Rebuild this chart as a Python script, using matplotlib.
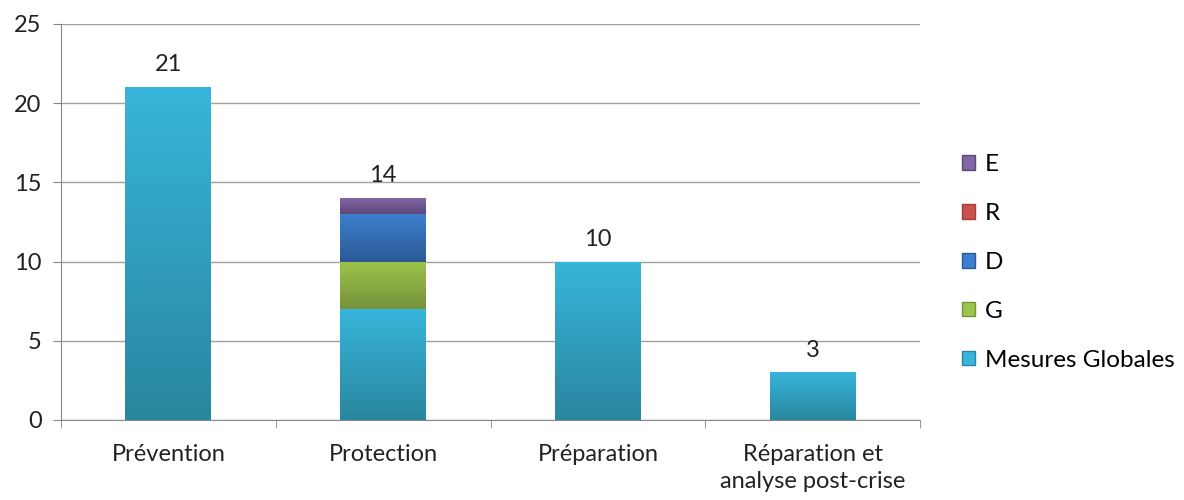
import numpy as np
import matplotlib.pyplot as plt
from matplotlib.colors import LinearSegmentedColormap
from matplotlib.patches import Patch

plt.rcParams['font.family'] = ['Lato', 'DejaVu Sans']

# --- data ---
categories = ['Prévention', 'Protection', 'Préparation', 'Réparation et\nanalyse post-crise']
globales = [21, 7, 10, 3]
g_vals = [0, 3, 0, 0]
d_vals = [0, 3, 0, 0]
r_vals = [0, 0, 0, 0]
e_vals = [0, 1, 0, 0]
totals = [21, 14, 10, 3]

series = [
    ('Mesures Globales', globales, '#37b5da', '#2a869f'),
    ('G', g_vals, '#9dc44c', '#76923a'),
    ('D', d_vals, '#3b7fce', '#2c5a94'),
    ('R', r_vals, '#c9504d', '#a53c3a'),
    ('E', e_vals, '#8266a6', '#5f4779'),
]

fig = plt.figure(figsize=(11.84, 5), dpi=100)
ax = fig.add_axes([61 / 1184, 80 / 500, 859 / 1184, 396 / 500])

x = np.arange(len(categories))
width = 0.4
bottom = np.zeros(len(categories))
grad = np.linspace(0, 1, 64).reshape(-1, 1)

handles = []
for name, vals, top_c, bot_c in series:
    cmap = LinearSegmentedColormap.from_list(name, [bot_c, top_c])
    bars = ax.bar(x, vals, width, bottom=bottom, color=top_c, edgecolor='none', zorder=2)
    for b in bars:
        if b.get_height() <= 0:
            continue
        x0, y0 = b.get_x(), b.get_y()
        im = ax.imshow(grad, cmap=cmap, aspect='auto', origin='lower',
                       extent=[x0, x0 + b.get_width(), y0, y0 + b.get_height()], zorder=3)
        im.set_clip_path(b)
    bottom += np.array(vals)
    handles.append(Patch(facecolor=top_c, edgecolor=bot_c, label=name))

for xi, t in zip(x, totals):
    ax.text(xi, t + 0.75, str(t), ha='center', va='bottom', fontsize=17, color='#222222')

ax.set_xlim(-0.5, len(categories) - 0.5)
ax.set_ylim(0, 25)
ax.set_yticks(range(0, 26, 5))
ax.yaxis.grid(True, color='#a0a0a0', linewidth=1)
ax.set_axisbelow(True)

ax.set_xticks(x)
ax.set_xticklabels(categories, fontsize=17, color='#222222', linespacing=1.35)
ax.set_xticks(np.arange(-0.5, len(categories)), minor=True)
ax.tick_params(axis='x', which='major', length=0, pad=17)
ax.tick_params(axis='x', which='minor', length=6, color='#888888', direction='out')
ax.tick_params(axis='y', length=6, color='#888888', labelsize=17, labelcolor='#222222', pad=8)

for s in ['top', 'right']:
    ax.spines[s].set_visible(False)
ax.spines['left'].set_color('#888888')
ax.spines['bottom'].set_color('#888888')

leg = fig.legend(handles=handles[::-1], loc='upper left', bbox_to_anchor=(940 / 1184, 1 - 132 / 500),
                 frameon=False, fontsize=17.5, handlelength=0.55, handleheight=0.55,
                 handletextpad=0.4, labelspacing=1.15)

fig.savefig('out.png', dpi=100)
